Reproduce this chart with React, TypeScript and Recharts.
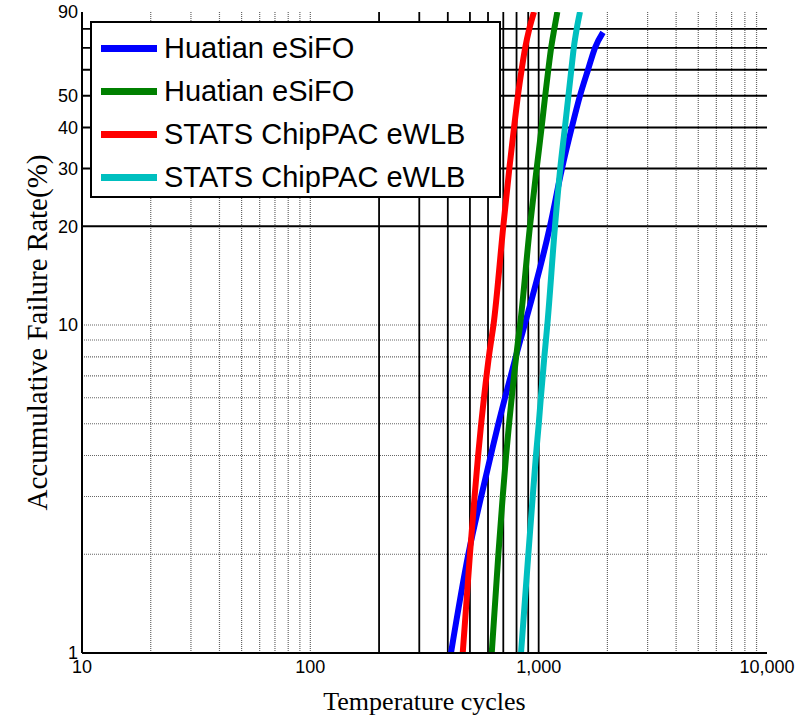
import React from 'react';
import { LineChart, Line, XAxis, YAxis, ReferenceLine, Label } from 'recharts';

// tick labels
const cycleTicks = [10, 100, 1000, 10000];
const rateTicks = [1, 10, 20, 30, 40, 50, 90];

// grid values (MATLAB style: some decades drawn as solid black, others dotted gray)
const xGridDotted = [20, 30, 40, 50, 60, 70, 80, 90, 100, 2000, 3000, 4000, 5000, 6000, 7000, 8000, 9000];
const xGridSolid = [200, 300, 400, 500, 600, 700, 800, 900, 1000];
const yGridDotted = [2, 3, 4, 5, 6, 7, 8, 9, 10];
const yGridSolid = [20, 30, 40, 50, 60, 70, 80];
const xMinorTicks = [20, 30, 40, 50, 60, 70, 80, 90, 100, 200, 300, 400, 500, 600, 700, 800, 900, 1000, 2000, 3000, 4000, 5000, 6000, 7000, 8000, 9000];
const yMinorTicks = [2, 3, 4, 5, 6, 7, 8, 9, 10, 20, 30, 40, 50, 60, 70, 80];

// failure rate (%) at which each curve was read
const rates = [1, 2, 3, 4, 5, 6, 7, 8, 9, 10, 20, 30, 40, 50, 60, 70, 80, 90];
const blueRates = [1, 2, 3, 4, 5, 6, 7, 8, 9, 10, 20, 30, 40, 50, 60, 70, 78];

// temperature cycles for each series
const blueCycles = [413, 492, 560, 617, 666, 712, 755, 794, 832, 868, 1121, 1265, 1396, 1517, 1645, 1765, 1913];
const greenCycles = [623, 666, 696, 720, 742, 762, 780, 797, 813, 829, 916, 980, 1030, 1068, 1102, 1134, 1171, 1207];
const redCycles = [465, 500, 524, 543, 560, 576, 591, 605, 620, 634, 700, 744, 780, 811, 842, 873, 910, 954];
const cyanCycles = [837, 901, 942, 973, 1001, 1022, 1042, 1059, 1076, 1091, 1179, 1243, 1303, 1350, 1390, 1425, 1468, 1517];

const toPoints = (xs: number[], ys: number[]) => xs.map((c, i) => ({ cycles: c, rate: ys[i] }));

const SERIES = [
  { name: 'Huatian eSiFO', color: '#0000ff', data: toPoints(blueCycles, blueRates) },
  { name: 'Huatian eSiFO', color: '#008000', data: toPoints(greenCycles, rates) },
  { name: 'STATS ChipPAC eWLB', color: '#ff0000', data: toPoints(redCycles, rates) },
  { name: 'STATS ChipPAC eWLB', color: '#00bfbf', data: toPoints(cyanCycles, rates) },
];

const sans = '"Liberation Sans", Arial, sans-serif';
const serif = '"Liberation Serif", "Times New Roman", serif';

const LegendBox = () => (
  <div
    style={{
      position: 'absolute',
      left: 90,
      top: 21,
      width: 407,
      height: 173,
      border: '2px solid #000',
      background: '#fff',
      fontFamily: sans,
      fontSize: 29,
      color: '#000',
    }}
  >
    {SERIES.map((s, i) => (
      <div key={i} style={{ display: 'flex', alignItems: 'center', height: 43, marginTop: i === 0 ? 4 : 0 }}>
        <span style={{ display: 'inline-block', width: 56, height: 7, background: s.color, marginLeft: 9, marginRight: 7 }} />
        <span style={{ whiteSpace: 'nowrap' }}>{s.name}</span>
      </div>
    ))}
  </div>
);

const gray = { stroke: '#666', strokeWidth: 1.2, strokeDasharray: '1 1' };
const black = { stroke: '#000', strokeWidth: 1.8 };

export default function App() {
  return (
    <div style={{ position: 'absolute', left: 0, top: 0, width: 810, height: 718, background: '#fff' }}>
      <LineChart width={810} height={718} margin={{ top: 12, right: 43, bottom: 0, left: 0 }}>
        <XAxis
          dataKey="cycles"
          type="number"
          scale="log"
          domain={[10, 10000]}
          allowDataOverflow
          ticks={cycleTicks}
          tickFormatter={(v: number) => v.toLocaleString('en-US')}
          tickLine={false}
          tickSize={6}
          tickMargin={1}
          height={65}
          axisLine={{ stroke: '#000', strokeWidth: 2 }}
          tick={{ fill: '#000', fontFamily: sans, fontSize: 18 }}
        >
          <Label value="Temperature cycles" position="insideBottom" offset={8} style={{ fontFamily: serif, fontSize: 26, fill: '#000' }} />
        </XAxis>
        <XAxis xAxisId="top" orientation="top" mirror type="number" scale="log" domain={[10, 10000]} allowDataOverflow
          ticks={xMinorTicks} tick={false} tickSize={4} height={0}
          axisLine={{ stroke: '#000', strokeWidth: 2 }} tickLine={{ stroke: '#000' }} />
        <XAxis xAxisId="bottomMinor" orientation="bottom" mirror type="number" scale="log" domain={[10, 10000]} allowDataOverflow
          ticks={xMinorTicks} tick={false} tickSize={4} height={0} axisLine={false} tickLine={{ stroke: '#000' }} />
        <YAxis
          type="number"
          scale="log"
          domain={[1, 90]}
          allowDataOverflow
          ticks={rateTicks}
          tickLine={false}
          tickSize={2}
          tickMargin={2}
          width={82}
          axisLine={{ stroke: '#000', strokeWidth: 2 }}
          tick={{ fill: '#000', fontFamily: sans, fontSize: 18 }}
        >
          <Label value="Accumulative Failure Rate(%)" angle={-90} position="insideLeft" offset={37}
            style={{ fontFamily: serif, fontSize: 29, fill: '#000', textAnchor: 'middle' }} />
        </YAxis>
        <YAxis yAxisId="right" orientation="right" mirror type="number" scale="log" domain={[1, 90]} allowDataOverflow
          ticks={yMinorTicks} tick={false} tickSize={4} width={0}
          axisLine={{ stroke: '#000', strokeWidth: 2 }} tickLine={{ stroke: '#000' }} />
        <YAxis yAxisId="leftMinor" orientation="left" mirror type="number" scale="log" domain={[1, 90]} allowDataOverflow
          ticks={yMinorTicks} tick={false} tickSize={4} width={0} axisLine={false} tickLine={{ stroke: '#000' }} />

        {xGridDotted.map((v) => <ReferenceLine key={`xd${v}`} x={v} {...gray} />)}
        {yGridDotted.map((v) => <ReferenceLine key={`yd${v}`} y={v} {...gray} />)}
        {xGridSolid.map((v) => <ReferenceLine key={`xs${v}`} x={v} {...black} />)}
        {yGridSolid.map((v) => <ReferenceLine key={`ys${v}`} y={v} {...black} />)}

        {SERIES.map((s, i) => (
          <Line
            key={i}
            data={s.data}
            dataKey="rate"
            name={s.name}
            type="monotone"
            stroke={s.color}
            strokeWidth={6}
            dot={false}
            isAnimationActive={false}
          />
        ))}
      </LineChart>
      <LegendBox />
    </div>
  );
}
